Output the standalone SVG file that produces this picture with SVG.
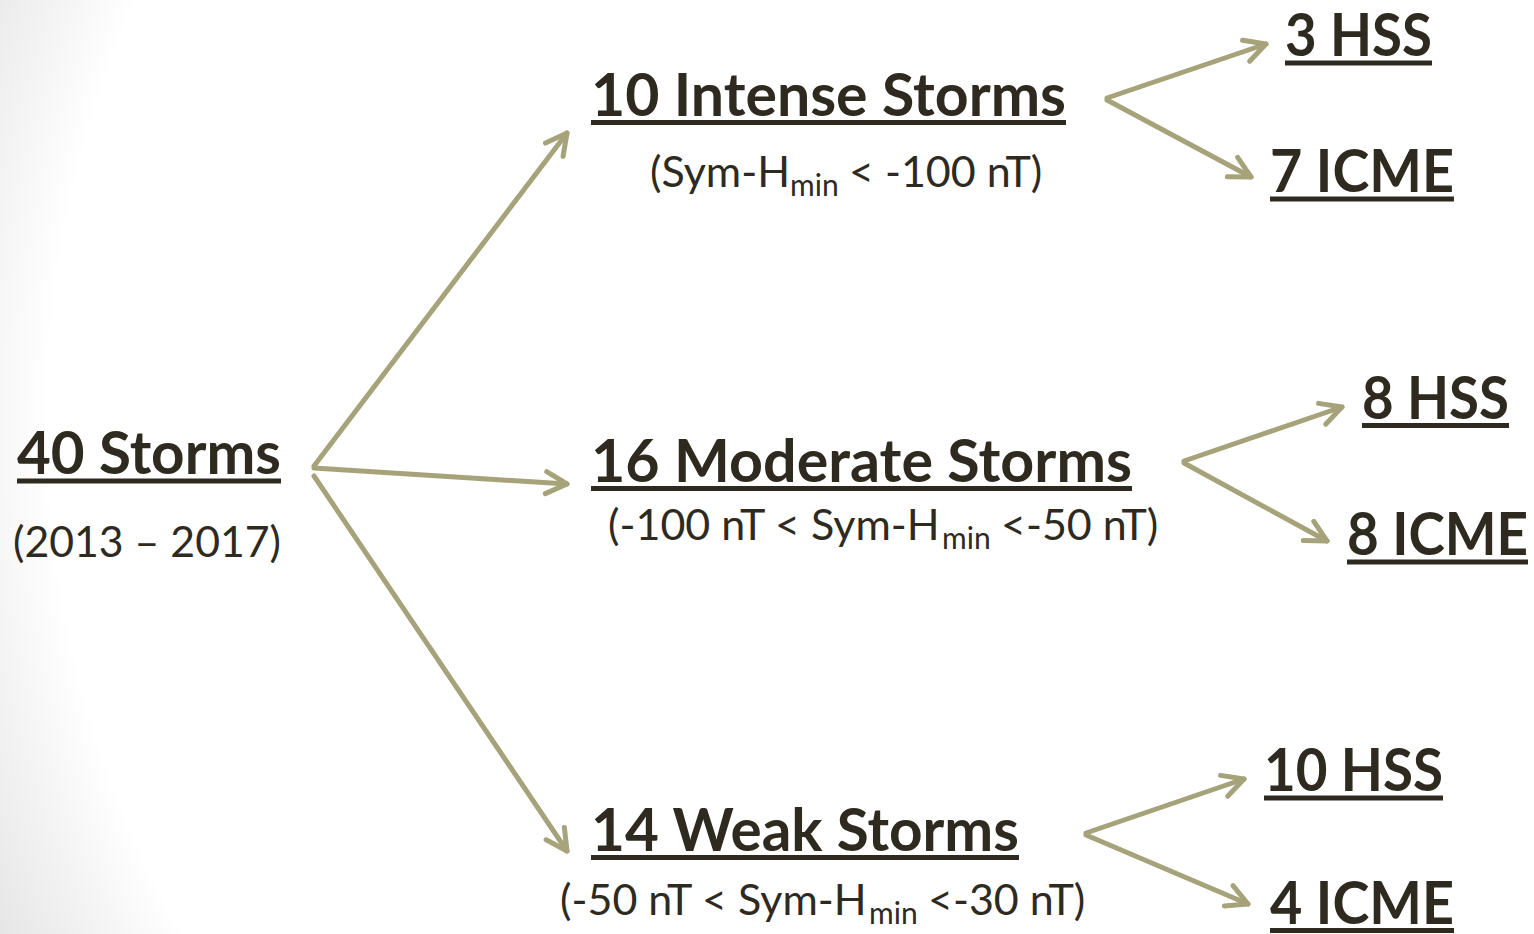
<svg xmlns="http://www.w3.org/2000/svg" width="1534" height="934" viewBox="0 0 1534 934">
  <defs>
    <radialGradient id="bg" gradientUnits="userSpaceOnUse" cx="1100" cy="420" r="1220">
      <stop offset="0" stop-color="#ffffff"/>
      <stop offset="0.86" stop-color="#ffffff"/>
      <stop offset="1" stop-color="#e5e5e5"/>
    </radialGradient>
    <marker id="arr" markerUnits="userSpaceOnUse" orient="auto" refX="0" refY="0" markerWidth="40" markerHeight="40" overflow="visible">
      <path d="M-21,-11 L0,0 L-21,11" fill="none" stroke="#a6a37a" stroke-width="5" stroke-linecap="round" stroke-linejoin="round"/>
    </marker>
    <style>
      .t { font-family: Lato, "Open Sans", "Liberation Sans", sans-serif; font-weight: 700; font-size: 59px; fill: #2e2a1f; }
      .s { font-family: Lato, "Open Sans", "Liberation Sans", sans-serif; font-weight: 400; font-size: 43px; fill: #2e2a1f; }
      .sub { font-size: 30px; }
      .ul { fill: #2e2a1f; }
      .c { fill: none; stroke: #a6a37a; stroke-width: 5; stroke-linecap: round; }
    </style>
  </defs>
  <rect x="0" y="0" width="1534" height="934" fill="url(#bg)"/>

  <g id="connectors">
    <line class="c" x1="314" y1="466" x2="567" y2="133" marker-end="url(#arr)"/>
    <line class="c" x1="314" y1="468" x2="567" y2="484" marker-end="url(#arr)"/>
    <line class="c" x1="314" y1="476" x2="567" y2="851" marker-end="url(#arr)"/>
    <line class="c" x1="1107" y1="98" x2="1266" y2="44" marker-end="url(#arr)"/>
    <line class="c" x1="1107" y1="100" x2="1251" y2="177" marker-end="url(#arr)"/>
    <line class="c" x1="1184" y1="461" x2="1342" y2="407" marker-end="url(#arr)"/>
    <line class="c" x1="1184" y1="463" x2="1327" y2="541" marker-end="url(#arr)"/>
    <line class="c" x1="1086" y1="833" x2="1244" y2="779" marker-end="url(#arr)"/>
    <line class="c" x1="1086" y1="835" x2="1248" y2="904" marker-end="url(#arr)"/>
  </g>

  <g id="n40">
    <text class="t" x="17" y="474" textLength="264" lengthAdjust="spacingAndGlyphs">40 Storms</text>
    <rect class="ul" x="17" y="478.5" width="264" height="5"/>
    <text class="s" x="13" y="557" textLength="268" lengthAdjust="spacingAndGlyphs">(2013 – 2017)</text>
  </g>

  <g id="intense">
    <text class="t" x="591" y="116" textLength="475" lengthAdjust="spacingAndGlyphs">10 Intense Storms</text>
    <rect class="ul" x="591" y="120" width="475" height="5"/>
    <text class="s" y="187"><tspan x="650">(Sym-H</tspan><tspan class="sub" x="790" dy="9">min</tspan><tspan x="838" dy="-9"> &lt; -100 nT)</tspan></text>
  </g>

  <g id="moderate">
    <text class="t" x="591" y="482" textLength="541" lengthAdjust="spacingAndGlyphs">16 Moderate Storms</text>
    <rect class="ul" x="591" y="486" width="541" height="5"/>
    <text class="s" y="540"><tspan x="608">(-100 nT &lt; Sym-H</tspan><tspan class="sub" x="942" dy="9">min</tspan><tspan x="990" dy="-9"> &lt;-50 nT)</tspan></text>
  </g>

  <g id="weak">
    <text class="t" x="591" y="851" textLength="428" lengthAdjust="spacingAndGlyphs">14 Weak Storms</text>
    <rect class="ul" x="591" y="855" width="428" height="5"/>
    <text class="s" y="915"><tspan x="560">(-50 nT &lt; Sym-H</tspan><tspan class="sub" x="869" dy="9">min</tspan><tspan x="917" dy="-9"> &lt;-30 nT)</tspan></text>
  </g>

  <g id="hss3">
    <text class="t" x="1285" y="56" textLength="147" lengthAdjust="spacingAndGlyphs">3 HSS</text>
    <rect class="ul" x="1285" y="60.5" width="147" height="5"/>
  </g>
  <g id="icme7">
    <text class="t" x="1270" y="192" textLength="184" lengthAdjust="spacingAndGlyphs">7 ICME</text>
    <rect class="ul" x="1270" y="196.5" width="184" height="5"/>
  </g>
  <g id="hss8">
    <text class="t" x="1362" y="419" textLength="147" lengthAdjust="spacingAndGlyphs">8 HSS</text>
    <rect class="ul" x="1362" y="423" width="147" height="5"/>
  </g>
  <g id="icme8">
    <text class="t" x="1347" y="555" textLength="181" lengthAdjust="spacingAndGlyphs">8 ICME</text>
    <rect class="ul" x="1347" y="559.5" width="181" height="5"/>
  </g>
  <g id="hss10">
    <text class="t" x="1264" y="791" textLength="179" lengthAdjust="spacingAndGlyphs">10 HSS</text>
    <rect class="ul" x="1264" y="795.5" width="179" height="5"/>
  </g>
  <g id="icme4">
    <text class="t" x="1270" y="924" textLength="184" lengthAdjust="spacingAndGlyphs">4 ICME</text>
    <rect class="ul" x="1270" y="928" width="184" height="5"/>
  </g>
</svg>
